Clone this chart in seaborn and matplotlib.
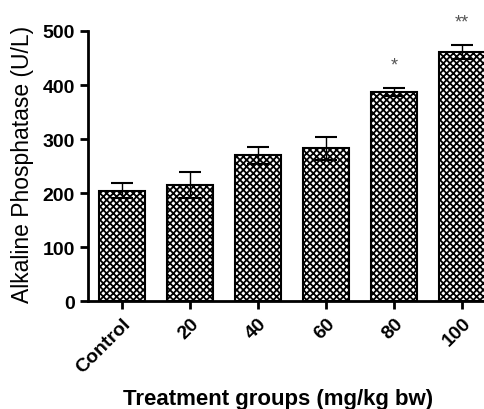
import matplotlib
matplotlib.use("Agg")
import matplotlib.pyplot as plt
import seaborn as sns
import pandas as pd

groups = ["Control", "20", "40", "60", "80", "100"]
means = [204, 215, 270, 283, 387, 461]
errors = [14, 24, 16, 21, 8, 13]
stars = ["", "", "", "", "*", "**"]

sns.set_theme(style="ticks")
plt.rcParams['font.family'] = ['Liberation Sans', 'DejaVu Sans']
plt.rcParams['hatch.linewidth'] = 1.3
plt.rcParams['hatch.color'] = 'black'
plt.rcParams['text.color'] = 'black'
plt.rcParams['axes.labelcolor'] = 'black'
plt.rcParams['xtick.color'] = 'black'
plt.rcParams['ytick.color'] = 'black'

df = pd.DataFrame({"group": groups, "value": means})

fig = plt.figure(figsize=(4.84, 4.10), dpi=100)
ax = fig.add_axes([0.182, 0.263, 0.843, 0.659])
sns.barplot(data=df, x="group", y="value", ax=ax, color="white",
            edgecolor="black", linewidth=1.5, width=0.68, errorbar=None)
for p in ax.patches:
    p.set_hatch("xxxxx")
    p.set_facecolor("white")
ax.errorbar(range(len(groups)), means, yerr=errors, fmt="none",
            ecolor="black", elinewidth=1, capsize=8, capthick=1.5, zorder=5)
for i, (m, e, s) in enumerate(zip(means, errors, stars)):
    if s:
        ax.text(i, m + e + 26, s, ha="center", va="bottom", fontsize=13,
                color="#555555")

ax.set_xlim(-0.5, 5.5)
ax.set_ylim(0, 500)
ax.set_yticks([0, 100, 200, 300, 400, 500])
sns.despine(ax=ax)
for sp in ["left", "bottom"]:
    ax.spines[sp].set_linewidth(2)
    ax.spines[sp].set_color("black")
ax.tick_params(axis="both", width=2, length=6, direction="out", labelsize=14)
for lab in ax.get_yticklabels():
    lab.set_fontweight("bold")
ax.set_xticks(range(len(groups)))
ax.set_xticklabels(groups, rotation=45, ha="right", rotation_mode="anchor",
                   fontweight="bold", fontsize=14)
ax.set_ylabel("Alkaline Phosphatase (U/L)", fontsize=16.5)
ax.yaxis.set_label_coords(-0.133, 0.51)
ax.set_xlabel("Treatment groups (mg/kg bw)", fontsize=16, fontweight="bold")
ax.xaxis.set_label_coords(0.466, -0.32)
fig.savefig("out.png", dpi=100)
